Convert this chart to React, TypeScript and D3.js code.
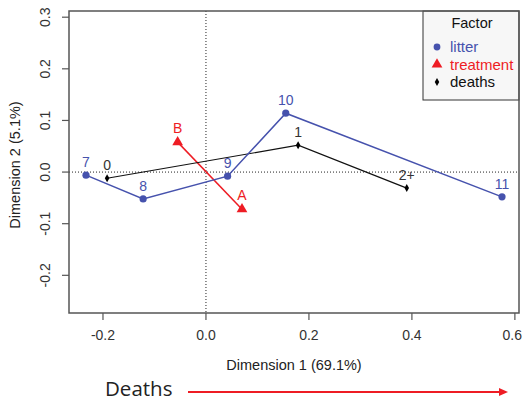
import React from "react";
import * as d3 from "d3";

// coordinates
const litterLabels = ["7", "8", "9", "10", "11"];
const litterX = [-0.233, -0.122, 0.042, 0.155, 0.575];
const litterY = [-0.006, -0.052, -0.008, 0.114, -0.048];

const deathLabels = ["0", "1", "2+"];
const deathX = [-0.192, 0.179, 0.39];
const deathY = [-0.012, 0.052, -0.031];

const treatLabels = ["B", "A"];
const treatX = [-0.055, 0.07];
const treatY = [0.058, -0.072];

const xTicks = [-0.2, 0, 0.2, 0.4, 0.6];
const yTicks = [-0.2, -0.1, 0, 0.1, 0.2, 0.3];

const legendItems = ["litter", "treatment", "deaths"];

const BLUE = "#4652ad";
const RED = "#ee1c24";
const FONT = "'Liberation Sans', Arial, sans-serif";

const App = () => {
  const width = 523;
  const height = 401;
  const left = 69, right = 519, top = 11, bottom = 313;

  const x = d3.scaleLinear().domain([-0.266, 0.608]).range([left, right]);
  const y = d3.scaleLinear().domain([-0.273, 0.312]).range([bottom, top]);

  const line = d3.line<number>();
  const pts = (xs: number[], ys: number[]) =>
    xs.map((v, i) => [x(v), y(ys[i])] as [number, number]);

  const tri = d3.symbol().type(d3.symbolTriangle).size(50)();
  const diamond = d3.symbol().type(d3.symbolDiamond).size(18)();

  const fmt = (v: number) => d3.format(".1f")(v).replace("\u2212", "-");

  return (
    <svg width={width} height={height} style={{ position: "absolute", left: 0, top: 0, background: "#fff" }} fontFamily={FONT}>
      {/* reference lines */}
      <line x1={x(0)} x2={x(0)} y1={top} y2={bottom} stroke="#222" strokeWidth={1} strokeDasharray="1,2" />
      <line x1={left} x2={right} y1={y(0)} y2={y(0)} stroke="#222" strokeWidth={1} strokeDasharray="1,2" />

      {/* treatment */}
      <path d={line(pts(treatX, treatY)) || ""} fill="none" stroke={RED} strokeWidth={1.5} />
      {treatX.map((v, i) => (
        <g key={"t" + i}>
          <path d={tri || ""} transform={`translate(${x(v)},${y(treatY[i])})`} fill={RED} />
          <text x={x(v)} y={y(treatY[i]) - 9} textAnchor="middle" fontSize={14} fill={RED}>{treatLabels[i]}</text>
        </g>
      ))}

      {/* deaths */}
      <path d={line(pts(deathX, deathY)) || ""} fill="none" stroke="#111" strokeWidth={1.2} />
      {deathX.map((v, i) => (
        <g key={"d" + i}>
          <path d={diamond || ""} transform={`translate(${x(v)},${y(deathY[i])})`} fill="#000" />
          <text x={x(v)} y={y(deathY[i]) - 8} textAnchor="middle" fontSize={14} fill="#333">{deathLabels[i]}</text>
        </g>
      ))}

      {/* litter */}
      <path d={line(pts(litterX, litterY)) || ""} fill="none" stroke={BLUE} strokeWidth={1.5} />
      {litterX.map((v, i) => (
        <g key={"l" + i}>
          <circle cx={x(v)} cy={y(litterY[i])} r={3.6} fill={BLUE} />
          <text x={x(v)} y={y(litterY[i]) - 8} textAnchor="middle" fontSize={14} fill={BLUE}>{litterLabels[i]}</text>
        </g>
      ))}

      {/* legend */}
      <g>
        <rect x={423} y={top} width={right - 423} height={89} fill="#f7f7f7" stroke="#333" strokeWidth={1} />
        <text x={472} y={28} textAnchor="middle" fontSize={14.5} fill="#111">Factor</text>
        {legendItems.map((name, i) => {
          const ly = 47 + i * 17.5;
          const col = i === 0 ? BLUE : i === 1 ? RED : "#111";
          return (
            <g key={name}>
              {i === 0 && <circle cx={437} cy={ly} r={3.4} fill={BLUE} />}
              {i === 1 && <path d={tri || ""} transform={`translate(437,${ly})`} fill={RED} />}
              {i === 2 && <path d={diamond || ""} transform={`translate(437,${ly})`} fill="#000" />}
              <text x={450} y={ly + 5} fontSize={15} fill={col}>{name}</text>
            </g>
          );
        })}
      </g>

      {/* box */}
      <rect x={left} y={top} width={right - left} height={bottom - top} fill="none" stroke="#555" strokeWidth={1.5} />

      {/* x axis */}
      {xTicks.map((t, i) => {
        const last = i === xTicks.length - 1;
        return (
          <g key={"xt" + t}>
            <line x1={x(t)} x2={x(t)} y1={bottom} y2={bottom + 7} stroke="#555" strokeWidth={1.2} />
            <text x={last ? width - 1 : x(t)} y={bottom + 27} textAnchor={last ? "end" : "middle"} fontSize={14} fill="#333">{fmt(t)}</text>
          </g>
        );
      })}
      <text x={294} y={370} textAnchor="middle" fontSize={14.5} fill="#222">Dimension 1 (69.1%)</text>

      {/* y axis */}
      {yTicks.map((t) => (
        <g key={"yt" + t}>
          <line x1={left - 7} x2={left} y1={y(t)} y2={y(t)} stroke="#555" strokeWidth={1.2} />
          <text transform={`translate(${left - 19},${y(t)}) rotate(-90)`} textAnchor="middle" fontSize={14} fill="#333">{fmt(t)}</text>
        </g>
      ))}
      <text transform={`translate(20,${165}) rotate(-90)`} textAnchor="middle" fontSize={14.5} fill="#222">Dimension 2 (5.1%)</text>

      {/* deaths arrow */}
      <text x={105} y={396} fontSize={20.5} fontFamily="'Open Sans', 'Noto Sans', sans-serif" fill="#222">Deaths</text>
      <line x1={188} x2={500} y1={392} y2={392} stroke={RED} strokeWidth={2} />
      <path d="M499,388 L508,392 L499,396 Z" fill={RED} />
    </svg>
  );
};

export default App;
